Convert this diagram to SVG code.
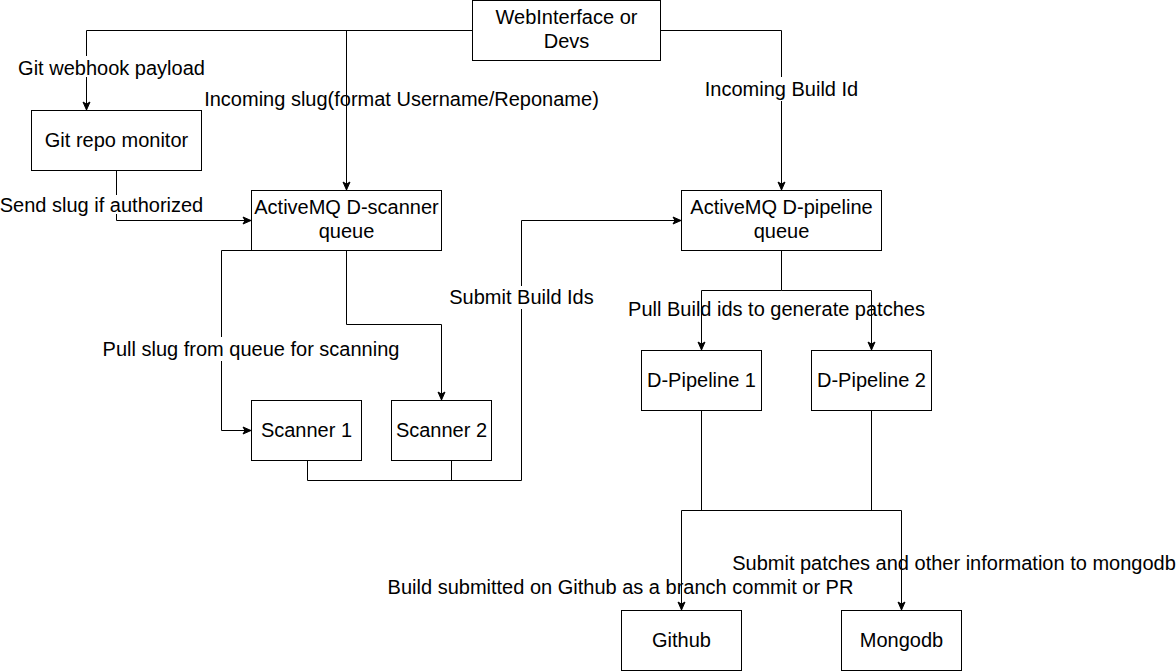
<svg xmlns="http://www.w3.org/2000/svg" width="1176" height="671" viewBox="0 0 1176 671">
<defs>
<marker id="arr" markerUnits="userSpaceOnUse" markerWidth="10" markerHeight="10" viewBox="0 0 10 10" refX="9" refY="5" orient="auto">
<path d="M1,1.5 L9,5 L1,8.5 L3,5 Z" fill="#000" stroke="#000" stroke-width="1"/>
</marker>
<style>
.edge{fill:none;stroke:#000;stroke-width:1}
.node rect{fill:#fff;stroke:#000;stroke-width:1}
text{font-family:"Liberation Sans",Arial,sans-serif;font-size:20px;fill:#000;text-anchor:middle}
.bg{fill:#fff;stroke:none}
</style>
</defs>
<rect width="1176" height="671" fill="#fff"/>
<g id="connectors">
<path class="edge" d="M472,30.5 H86.5 V110" marker-end="url(#arr)"/>
<path class="edge" d="M472,30.5 H346.5 V190" marker-end="url(#arr)"/>
<path class="edge" d="M661,30.5 H781.5 V190" marker-end="url(#arr)"/>
<path class="edge" d="M116.5,170 V220.5 H251" marker-end="url(#arr)"/>
<path class="edge" d="M251,250.5 H221.5 V430.5 H251" marker-end="url(#arr)"/>
<path class="edge" d="M346.5,250 V324.5 H441.5 V400" marker-end="url(#arr)"/>
<path class="edge" d="M307.5,460 V480.5 H521.5 V220.5 H681" marker-end="url(#arr)"/>
<path class="edge" d="M451.5,460 V480.5"/>
<path class="edge" d="M781.5,250 V290.5 H701.5 V350" marker-end="url(#arr)"/>
<path class="edge" d="M781.5,290.5 H871.5 V350" marker-end="url(#arr)"/>
<path class="edge" d="M701.5,410 V510.5 H901.5 V610" marker-end="url(#arr)"/>
<path class="edge" d="M871.5,410 V510.5 H681.5 V610" marker-end="url(#arr)"/>
</g>
<g id="labels">
<rect class="bg" x="19" y="56" width="186" height="21"/>
<text x="111.5" y="75">Git webhook payload</text>
<text x="401.5" y="106">Incoming slug(format Username/Reponame)</text>
<rect class="bg" x="705" y="77" width="154" height="24"/>
<text x="781.5" y="96">Incoming Build Id</text>
<rect class="bg" x="0" y="195" width="204" height="19"/>
<text x="101.5" y="212">Send slug if authorized</text>
<rect class="bg" x="449" y="286" width="146" height="23"/>
<text x="521.5" y="304">Submit Build Ids</text>
<text x="776.5" y="316">Pull Build ids to generate patches</text>
<rect class="bg" x="103" y="337" width="297" height="24"/>
<text x="251" y="356">Pull slug from queue for scanning</text>
<text x="954" y="570">Submit patches and other information to mongodb</text>
<text x="620.5" y="594">Build submitted on Github as a branch commit or PR</text>
</g>
<g id="web" class="node"><rect x="472.5" y="0.5" width="188" height="60"/><text x="566.5" y="24">WebInterface or</text><text x="566.5" y="48">Devs</text></g>
<g id="gitmonitor" class="node"><rect x="31.5" y="110.5" width="170" height="60"/><text x="116.5" y="147">Git repo monitor</text></g>
<g id="dscanner" class="node"><rect x="251.5" y="190.5" width="190" height="60"/><text x="346.5" y="214">ActiveMQ D-scanner</text><text x="346.5" y="238">queue</text></g>
<g id="dpipelineq" class="node"><rect x="681.5" y="190.5" width="200" height="60"/><text x="781.5" y="214">ActiveMQ D-pipeline</text><text x="781.5" y="238">queue</text></g>
<g id="scanner1" class="node"><rect x="251.5" y="400.5" width="110" height="60"/><text x="306.5" y="437">Scanner 1</text></g>
<g id="scanner2" class="node"><rect x="391.5" y="400.5" width="100" height="60"/><text x="441.5" y="437">Scanner 2</text></g>
<g id="pipeline1" class="node"><rect x="641.5" y="350.5" width="120" height="60"/><text x="701.5" y="387">D-Pipeline 1</text></g>
<g id="pipeline2" class="node"><rect x="811.5" y="350.5" width="120" height="60"/><text x="871.5" y="387">D-Pipeline 2</text></g>
<g id="github" class="node"><rect x="621.5" y="610.5" width="120" height="60"/><text x="681.5" y="647">Github</text></g>
<g id="mongodb" class="node"><rect x="841.5" y="610.5" width="120" height="60"/><text x="901.5" y="647">Mongodb</text></g>
</svg>
